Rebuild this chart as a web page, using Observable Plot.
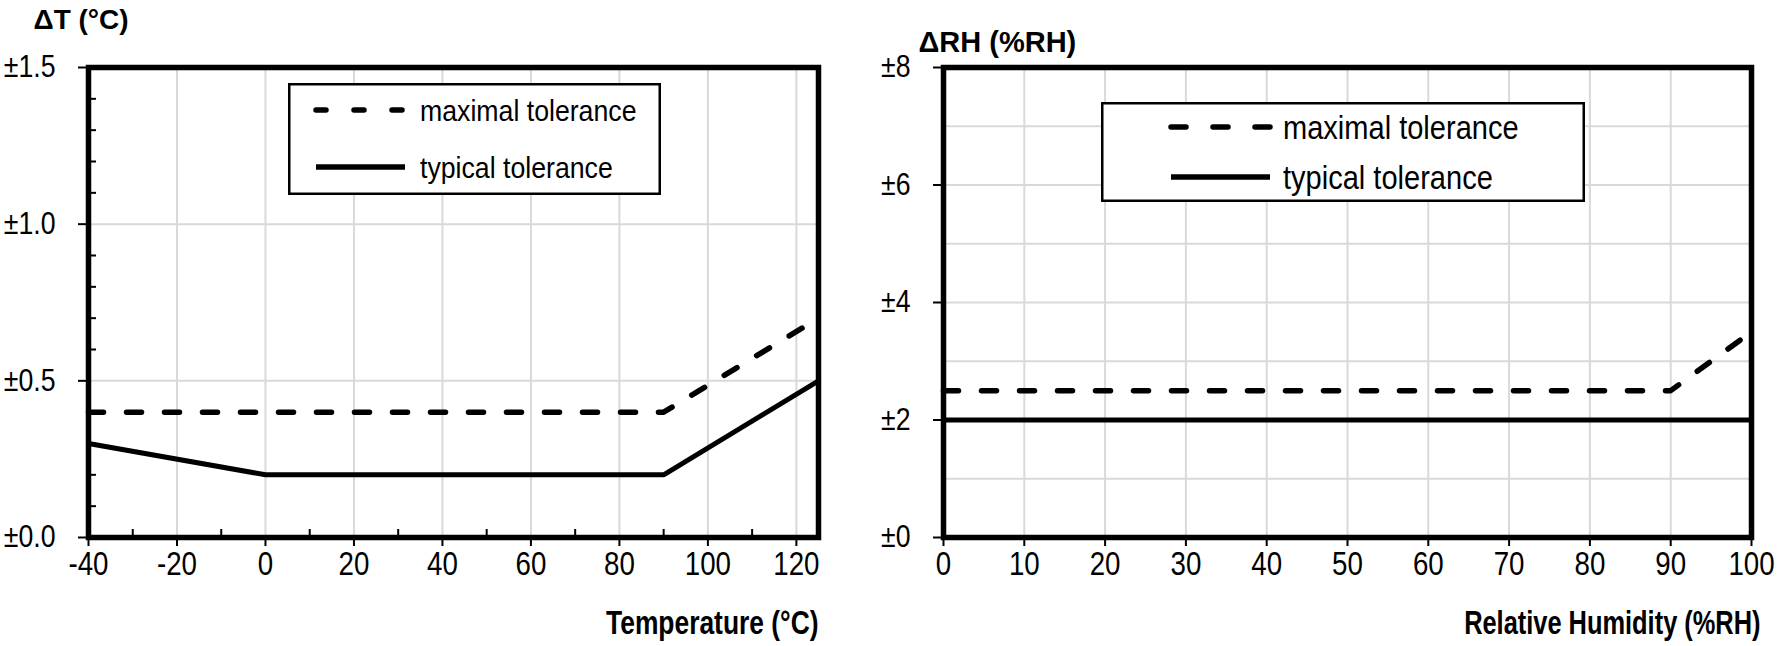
<!DOCTYPE html>
<html><head><meta charset="utf-8">
<script src="https://cdn.jsdelivr.net/npm/d3@7"></script>
<script src="https://cdn.jsdelivr.net/npm/@observablehq/plot@0.6"></script>
<style>
body{margin:0;background:#fff;}
#wrap{position:relative;width:1777px;height:646px;overflow:hidden;background:#fff;}
#wrap > svg{position:absolute;top:0;overflow:visible;}
.lg{position:absolute;overflow:visible;}
</style></head>
<body><div id="wrap"></div>
<script>
// ---------- data ----------
const tempMaxX = [-40, 90, 125];
const tempMaxY = [0.4, 0.4, 0.7];
const tempTypX = [-40, 0, 90, 125];
const tempTypY = [0.3, 0.2, 0.2, 0.5];

const rhMaxX = [0, 90, 100];
const rhMaxY = [2.5, 2.5, 3.5];
const rhTypX = [0, 100];
const rhTypY = [2, 2];

const tempXTicks = [-40, -20, 0, 20, 40, 60, 80, 100, 120];
const tempXMinor = [-30, -10, 10, 30, 50, 70, 90, 110];
const tempYTicks = [0, 0.5, 1.0, 1.5];
const tempYMinor = [0.1, 0.2, 0.3, 0.4, 0.6, 0.7, 0.8, 0.9, 1.1, 1.2, 1.3, 1.4];
const rhXTicks = [0, 10, 20, 30, 40, 50, 60, 70, 80, 90, 100];
const rhYTicks = [0, 2, 4, 6, 8];
const rhYGrid = [1, 2, 3, 4, 5, 6, 7];

const seriesNames = ["maximal tolerance", "typical tolerance"];
const tempTitles = ["ΔT (°C)", "Temperature (°C)"];
const rhTitles = ["ΔRH (%RH)", "Relative Humidity (%RH)"];

// ---------- layout ----------
const H = 646, MT = 67, MB = 109;
const FONT = '"Liberation Sans",Arial,sans-serif';
const GRID = "#d9d9d9";
const DASH = "15,23";

function rows(xs, ys) { return xs.map((x, i) => ({x, y: ys[i]})); }

function scaleTexts(list, k) {
  list.forEach(t => {
    const tr = t.getAttribute("transform");
    if (tr) t.setAttribute("transform", tr + ` scale(${k},1)`);
    else {
      const x = +(t.getAttribute("x") || 0);
      t.setAttribute("transform", `translate(${x},0) scale(${k},1) translate(${-x},0)`);
    }
  });
}

function makeChart(cfg) {
  const innerW = cfg.width - cfg.ml - cfg.mr;
  const innerH = H - MT - MB;
  const marks = [
    Plot.gridX(cfg.xGrid, {stroke: GRID, strokeOpacity: 1, strokeWidth: 2}),
    Plot.gridY(cfg.yGrid, {stroke: GRID, strokeOpacity: 1, strokeWidth: 2}),
    Plot.line(rows(cfg.typX, cfg.typY), {x: "x", y: "y", stroke: "black", strokeWidth: 5, strokeLinejoin: "miter"}),
    Plot.line(rows(cfg.maxX, cfg.maxY), {x: "x", y: "y", stroke: "black", strokeWidth: 5.5, strokeDasharray: DASH, strokeLinecap: "round"}),
    Plot.axisX({ticks: cfg.xTicks, tickSize: 9, tickPadding: 5, strokeWidth: 2, label: null, tickFormat: d => String(d), fontSize: 33}),
    Plot.axisY({ticks: cfg.yTicks, tickSize: 10, tickPadding: 23, strokeWidth: 2, label: null, tickFormat: cfg.yFmt, fontSize: 31}),
  ];
  if (cfg.xMinor) marks.push(Plot.tickX(cfg.xMinor, {x: d => d, insetTop: innerH - 8, strokeWidth: 2}));
  if (cfg.yMinor) marks.push(Plot.tickY(cfg.yMinor, {y: d => d, insetRight: innerW - 8, strokeWidth: 2}));
  marks.push(
    Plot.frame({stroke: "black", strokeWidth: 5.5}),
    Plot.text([cfg.titles[0]], {frameAnchor: "top-left", textAnchor: "start", lineAnchor: "middle", dx: cfg.ytdx, dy: cfg.ytdy, fontWeight: "bold", fontSize: cfg.ytSize}),
    Plot.text([cfg.titles[1]], {frameAnchor: "bottom-right", textAnchor: "end", lineAnchor: "middle", dx: cfg.xtdx, dy: 86, fontWeight: "bold", fontSize: 33})
  );
  const svg = Plot.plot({
    width: cfg.width, height: H,
    marginLeft: cfg.ml, marginRight: cfg.mr, marginTop: MT, marginBottom: MB,
    x: {domain: cfg.xDomain},
    y: {domain: cfg.yDomain},
    style: {fontFamily: FONT, fontSize: "31px", color: "black", background: "transparent", overflow: "visible"},
    marks
  });
  svg.style.left = cfg.left + "px";
  const all = [...svg.querySelectorAll("text")];
  const yTitle = t => t.textContent === cfg.titles[0];
  const xTitle = t => t.textContent === cfg.titles[1];
  const yLab = t => t.textContent.startsWith("±");
  scaleTexts(all.filter(yLab), 0.86);
  scaleTexts(all.filter(t => !yLab(t) && !yTitle(t) && !xTitle(t)), 0.84);
  scaleTexts(all.filter(xTitle), cfg.xtK);
  return svg;
}

const wrap = document.getElementById("wrap");

wrap.appendChild(makeChart({
  left: 0, width: 880, ml: 88, mr: 62,
  xDomain: [-40, 125], yDomain: [0, 1.5],
  xGrid: tempXTicks.slice(1), yGrid: [0.5, 1.0],
  xTicks: tempXTicks, yTicks: tempYTicks, xMinor: tempXMinor, yMinor: tempYMinor,
  yFmt: d => "±" + d.toFixed(1),
  typX: tempTypX, typY: tempTypY, maxX: tempMaxX, maxY: tempMaxY,
  titles: tempTitles, ytdx: -55, ytdy: -47, ytSize: 28, xtdx: 0, xtK: 0.8
}));

wrap.appendChild(makeChart({
  left: 880, width: 897, ml: 63, mr: 26,
  xDomain: [0, 100], yDomain: [0, 8],
  xGrid: rhXTicks.slice(1, -1), yGrid: rhYGrid,
  xTicks: rhXTicks, yTicks: rhYTicks, xMinor: null, yMinor: null,
  yFmt: d => "±" + d,
  typX: rhTypX, typY: rhTypY, maxX: rhMaxX, maxY: rhMaxY,
  titles: rhTitles, ytdx: -25, ytdy: -25, ytSize: 29, xtdx: 9, xtK: 0.77
}));

// ---------- legends ----------
function legend(box) {
  const svg = d3.select(wrap).append("svg").attr("class", "lg")
    .attr("width", box.w).attr("height", box.h)
    .style("left", box.x + "px").style("top", box.y + "px");
  svg.append("rect").attr("x", 1.25).attr("y", 1.25).attr("width", box.w - 2.5).attr("height", box.h - 2.5)
    .attr("fill", "white").attr("stroke", "black").attr("stroke-width", 2.5);
  seriesNames.forEach((name, i) => {
    const yy = box.rows[i];
    svg.append("line").attr("x1", box.s0).attr("x2", box.s1).attr("y1", yy).attr("y2", yy)
      .attr("stroke", "black").attr("stroke-width", 5.5)
      .attr("stroke-dasharray", i === 0 ? box.dash : null)
      .attr("stroke-linecap", i === 0 ? "round" : "butt");
    svg.append("text").attr("transform", `translate(${box.tx},${yy}) scale(${box.k},1)`).attr("dy", "0.35em")
      .attr("font-family", FONT).attr("font-size", box.fs).attr("fill", "black").text(name);
  });
}
legend({x: 288, y: 83, w: 373, h: 112, s0: 28, s1: 117, rows: [27, 84], tx: 132, fs: 30, k: 0.89, dash: "10,28"});
legend({x: 1101, y: 102, w: 484, h: 100, s0: 70, s1: 169, rows: [25, 75], tx: 182, fs: 33, k: 0.88, dash: "15,27"});
</script>
</body></html>
